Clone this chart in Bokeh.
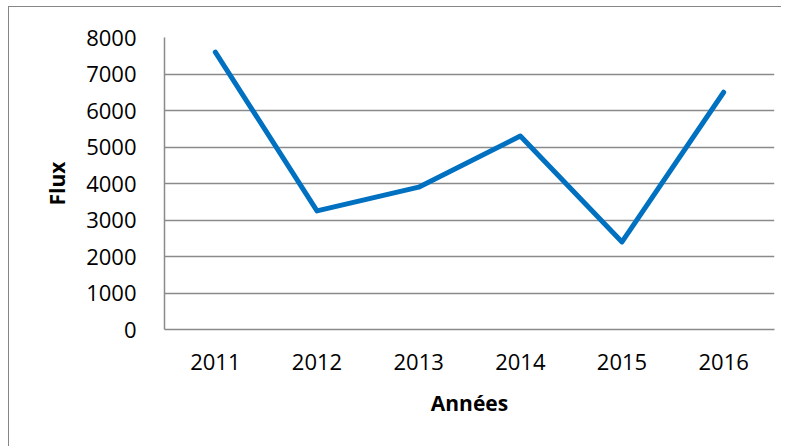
from bokeh.plotting import figure
from bokeh.models import Range1d, FixedTicker
from bokeh.embed import file_html
from bokeh.resources import INLINE

years = ["2011", "2012", "2013", "2014", "2015", "2016"]
flux = [7600, 3250, 3900, 5300, 2400, 6500]
y_ticks = [0, 1000, 2000, 3000, 4000, 5000, 6000, 7000, 8000]

p = figure(x_range=years, width=773, height=440, output_backend="svg",
           toolbar_location=None, min_border_left=155, min_border_right=8,
           min_border_top=30, min_border_bottom=118)
p.y_range = Range1d(0, 8000)
p.styles = {"margin-left": "8px", "margin-top": "6px",
            "border-left": "1px solid #868686", "border-top": "1px solid #868686"}

p.line(years, flux, line_color="#0070C0", line_width=5, line_join="round", line_cap="round")

p.outline_line_color = None
p.xgrid.grid_line_color = None
p.ygrid.grid_line_color = "#8a8a8a"
p.ygrid.grid_line_width = 1.5
p.yaxis.ticker = FixedTicker(ticks=y_ticks)

for ax in (p.xaxis[0], p.yaxis[0]):
    ax.axis_line_color = "#8a8a8a"
    ax.axis_line_width = 1.5
    ax.major_tick_line_color = None
    ax.minor_tick_line_color = None
    ax.major_label_text_font = "Open Sans"
    ax.major_label_text_font_size = "22px"
    ax.major_label_text_color = "#000000"
    ax.axis_label_text_font = "Open Sans"
    ax.axis_label_text_font_size = "21px"
    ax.axis_label_text_font_style = "bold"
    ax.axis_label_text_color = "#000000"

p.xaxis.axis_label = "Années"
p.yaxis.axis_label = "Flux"
p.yaxis.major_label_standoff = 22
p.xaxis.major_label_standoff = 18
p.xaxis.axis_label_standoff = 16
p.yaxis.axis_label_standoff = 12

open("out.html", "w").write(file_html(p, INLINE))
